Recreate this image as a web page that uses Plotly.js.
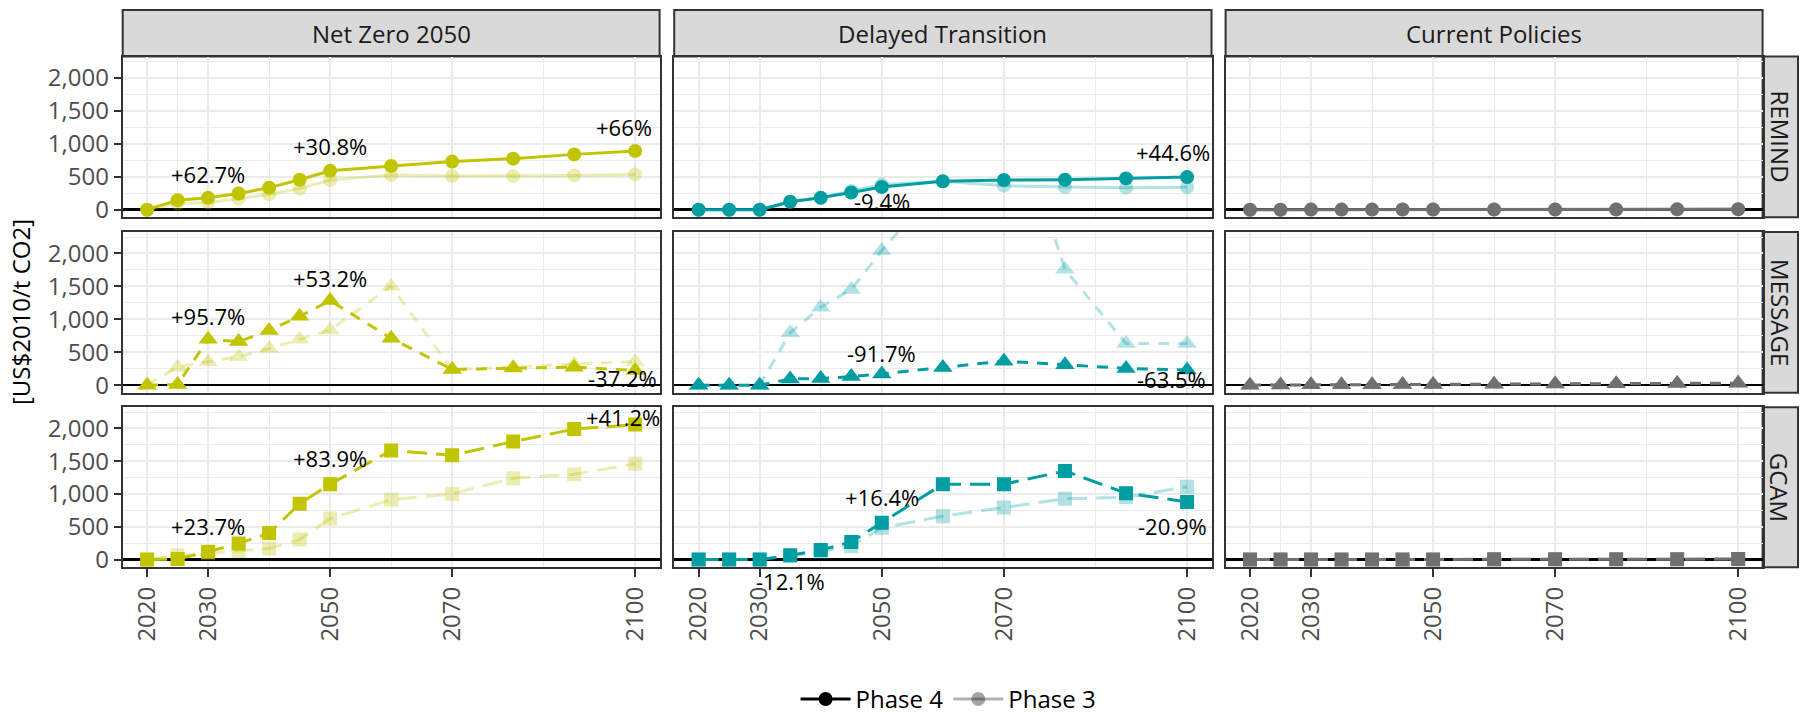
<!DOCTYPE html>
<html>
<head>
<meta charset="utf-8">
<script src="https://cdn.plot.ly/plotly-3.0.1.min.js"></script>
<style>html,body{margin:0;padding:0;background:#fff}#chart{width:1800px;height:722px}</style>
</head>
<body>
<div id="chart"></div>
<script>
// ---------- data ----------
const years = [2020, 2025, 2030, 2035, 2040, 2045, 2050, 2060, 2070, 2080, 2090, 2100];
const scenarios = ['Net Zero 2050', 'Delayed Transition', 'Current Policies'];
const models = ['REMIND', 'MESSAGE', 'GCAM'];
const xTickVals = [2020, 2030, 2050, 2070, 2100];
const xTickText = ['2020', '2030', '2050', '2070', '2100'];
const yTickVals = [0, 500, 1000, 1500, 2000];

// Net Zero 2050
const nzRemindP4 = [0, 145, 180, 245, 335, 455, 590, 665, 730, 775, 840, 890];
const nzRemindP3 = [0, 95, 110, 165, 235, 320, 450, 525, 510, 510, 520, 536];
const nzMessageP4 = [0, 10, 697, 662, 831, 1045, 1284, 711, 239, 259, 274, 224];
const nzMessageP3 = [0, 274, 356, 433, 557, 697, 838, 1502, 239, 274, 323, 357];
const nzGcamP4 = [0, 10, 120, 245, 404, 852, 1151, 1665, 1590, 1800, 1990, 2060];
const nzGcamP3 = [0, 65, 97, 130, 170, 305, 626, 912, 1002, 1241, 1301, 1460];
// Delayed Transition
const dtRemindP4 = [0, 0, 0, 120, 180, 260, 345, 430, 450, 455, 475, 495];
const dtRemindP3 = [0, 0, 0, 120, 185, 285, 381, 430, 365, 345, 335, 342];
const dtMessageP4 = [0, 0, 0, 95, 100, 130, 170, 270, 365, 310, 255, 230];
const dtMessageP3 = [0, 0, 0, 796, 1184, 1453, 2045, 3100, 4600, 1760, 632, 632];
const dtGcamP4 = [0, 0, 0, 65, 145, 270, 563, 1151, 1151, 1351, 1012, 880];
const dtGcamP3 = [0, 0, 0, 55, 120, 205, 484, 663, 793, 927, 952, 1112];
// Current Policies
const cpRemindP4 = [0, 0, 1, 1, 1, 2, 2, 3, 3, 4, 5, 6];
const cpRemindP3 = [0, 0, 1, 1, 2, 2, 3, 4, 5, 6, 8, 10];
const cpMessageP4 = [0, 4, 6, 7, 8, 10, 12, 14, 18, 22, 27, 31];
const cpMessageP3 = [0, 3, 5, 6, 8, 9, 11, 13, 16, 20, 24, 28];
const cpGcamP4 = [0, 0, 1, 1, 2, 2, 3, 4, 5, 6, 7, 8];
const cpGcamP3 = [0, 0, 1, 1, 1, 2, 3, 3, 4, 5, 6, 7];

// percentage change labels (Phase 4 vs Phase 3), positions
const labelText = ['+62.7%', '+30.8%', '+66%', '-9.4%', '+44.6%', '+95.7%', '+53.2%', '-37.2%', '-91.7%', '-63.5%', '+23.7%', '+83.9%', '+41.2%', '+16.4%', '-20.9%', '-12.1%'];
const labelScenario = [0, 0, 0, 1, 1, 0, 0, 0, 1, 1, 0, 0, 0, 1, 1, 1];
const labelModel = [0, 0, 0, 0, 0, 1, 1, 1, 1, 1, 2, 2, 2, 2, 2, 2];
const labelYear = [2030, 2050, 2102.9, 2050, 2103.9, 2030, 2050, 2103.8, 2050, 2103.3, 2030, 2050, 2104.3, 2050, 2103.4, 2035];
const labelValue = [545, 960, 1260, 125, 875, 1050, 1625, 115, 485, 90, 515, 1545, 2180, 955, 515, -320];
const labelRightAligned = [false, false, true, false, true, false, false, true, false, true, false, false, true, false, true, false];

// ---------- styling ----------
const scenarioColor = ['#C1C500', '#009EA3', '#6D7173'];
const scenarioFade = ['rgba(193,197,0,0.3)', 'rgba(0,158,163,0.3)', 'rgba(109,113,115,0.3)'];
const modelSymbol = ['circle', 'triangle-up', 'square'];
const modelSize = [14, 17, 14];
const modelDash = ['solid', '11px,9px', '20px,9px'];

const seriesTable = [
  [[nzRemindP4, nzRemindP3], [nzMessageP4, nzMessageP3], [nzGcamP4, nzGcamP3]],
  [[dtRemindP4, dtRemindP3], [dtMessageP4, dtMessageP3], [dtGcamP4, dtGcamP3]],
  [[cpRemindP4, cpRemindP3], [cpMessageP4, cpMessageP3], [cpGcamP4, cpGcamP3]]
];

const W = 1800, H = 722;
const colPx = [[122.7, 659.6], [674.2, 1211.5], [1225.6, 1762.6]];
const rowPx = [[57.3, 220], [235, 397.7], [412.3, 574.3]];
const colX = colPx.map(p => [p[0] / W, p[1] / W]);
const rowY = rowPx.map(p => [1 - p[1] / H, 1 - p[0] / H]);
const stripTop = [1 - 57.3 / H, 1 - 10 / H];
const stripRight = [1762.6 / W, 1798 / W];
const xRange = [2016, 2104];
const yRange = [-115, 2325];

const FONT = 'Open Sans, Noto Sans, sans-serif';

const traces = [];
const layout = {
  width: W, height: H,
  margin: {l: 0, r: 0, t: 0, b: 0},
  paper_bgcolor: '#fff', plot_bgcolor: '#fff',
  font: {family: FONT, color: '#000'},
  showlegend: true,
  legend: {orientation: 'h', x: 0.527, xanchor: 'center', y: 0.019, yanchor: 'middle',
           font: {size: 24, color: '#000', family: FONT}, traceorder: 'normal', itemwidth: 50},
  shapes: [], annotations: []
};

const clamp = (v, lo, hi) => Math.min(hi, Math.max(lo, v));

for (let r = 0; r < 3; r++) {
  for (let c = 0; c < 3; c++) {
    const k = r * 3 + c + 1;
    const xa = k === 1 ? 'x' : 'x' + k;
    const ya = k === 1 ? 'y' : 'y' + k;
    const [p4, p3] = seriesTable[c][r];
    traces.push({
      type: 'scatter', mode: 'lines+markers', x: years, y: p3, xaxis: xa, yaxis: ya,
      line: {color: scenarioFade[c], width: 3, dash: modelDash[r]},
      marker: {symbol: modelSymbol[r], size: modelSize[r], color: scenarioFade[c]},
      showlegend: false, hoverinfo: 'skip'
    });
    traces.push({
      type: 'scatter', mode: 'lines+markers', x: years, y: p4, xaxis: xa, yaxis: ya,
      line: {color: scenarioColor[c], width: 3, dash: modelDash[r]},
      marker: {symbol: modelSymbol[r], size: modelSize[r], color: scenarioColor[c]},
      showlegend: false, hoverinfo: 'skip'
    });
    // percentage labels as annotations (anchored in data units)
    const pxPerX = (colPx[c][1] - colPx[c][0]) / (xRange[1] - xRange[0]);
    const pxPerY = (rowPx[r][1] - rowPx[r][0]) / (yRange[1] - yRange[0]);
    for (let i = 0; i < labelText.length; i++) {
      if (labelScenario[i] !== c || labelModel[i] !== r) continue;
      const ax = clamp(labelYear[i], xRange[0], xRange[1]);
      const ay = clamp(labelValue[i], yRange[0], yRange[1]);
      layout.annotations.push({
        xref: xa, yref: ya, x: ax, y: ay,
        xshift: (labelYear[i] - ax) * pxPerX, yshift: (labelValue[i] - ay) * pxPerY,
        text: labelText[i], showarrow: false,
        xanchor: labelRightAligned[i] ? 'right' : 'center', yanchor: 'middle',
        font: {size: 22, color: '#000', family: FONT}, borderpad: 0
      });
    }
    layout['xaxis' + (k === 1 ? '' : k)] = {
      domain: colX[c], anchor: ya, range: xRange,
      tickmode: 'array', tickvals: xTickVals, ticktext: xTickText,
      showticklabels: r === 2, ticks: r === 2 ? 'outside' : '', ticklen: 8, tickwidth: 2, tickcolor: '#333',
      tickangle: -90, tickfont: {size: 24, color: '#4D4D4D', family: FONT},
      showgrid: true, gridcolor: '#EBEBEB', gridwidth: 2,
      minor: {tickmode: 'array', tickvals: [2025, 2040, 2060, 2085], showgrid: true, gridcolor: '#EBEBEB', gridwidth: 1, ticks: ''},
      showline: true, mirror: true, linecolor: '#333', linewidth: 2, zeroline: false, fixedrange: true
    };
    layout['yaxis' + (k === 1 ? '' : k)] = {
      domain: rowY[r], anchor: xa, range: yRange,
      tickmode: 'array', tickvals: yTickVals, tickformat: ',',
      showticklabels: c === 0, ticks: c === 0 ? 'outside' : '', ticklen: 7, tickwidth: 2, tickcolor: '#333',
      tickfont: {size: 24, color: '#4D4D4D', family: FONT},
      showgrid: true, gridcolor: '#EBEBEB', gridwidth: 2,
      minor: {tickmode: 'array', tickvals: [250, 750, 1250, 1750, 2250], showgrid: true, gridcolor: '#EBEBEB', gridwidth: 1, ticks: ''},
      showline: true, mirror: true, linecolor: '#333', linewidth: 2,
      zeroline: true, zerolinecolor: '#000', zerolinewidth: 2.5, fixedrange: true
    };
  }
}

// strips
for (let c = 0; c < 3; c++) {
  layout.shapes.push({type: 'rect', xref: 'paper', yref: 'paper', x0: colX[c][0], x1: colX[c][1],
    y0: stripTop[0], y1: stripTop[1], fillcolor: '#D9D9D9', line: {color: '#333', width: 2}, layer: 'below'});
  layout.annotations.push({xref: 'paper', yref: 'paper', x: (colX[c][0] + colX[c][1]) / 2,
    y: (stripTop[0] + stripTop[1]) / 2, text: scenarios[c], showarrow: false,
    font: {size: 24, color: '#1A1A1A', family: FONT}, xanchor: 'center', yanchor: 'middle'});
}
for (let r = 0; r < 3; r++) {
  layout.shapes.push({type: 'rect', xref: 'paper', yref: 'paper', x0: stripRight[0], x1: stripRight[1],
    y0: rowY[r][0], y1: rowY[r][1], fillcolor: '#D9D9D9', line: {color: '#333', width: 2}, layer: 'below'});
  layout.annotations.push({xref: 'paper', yref: 'paper', x: (stripRight[0] + stripRight[1]) / 2,
    y: (rowY[r][0] + rowY[r][1]) / 2, text: models[r], showarrow: false, textangle: 90,
    font: {size: 24, color: '#1A1A1A', family: FONT}, xanchor: 'center', yanchor: 'middle'});
}
// y axis title
layout.annotations.push({xref: 'paper', yref: 'paper', x: 20 / W, y: 1 - 316 / H,
  text: '[US$2010/t CO2]', showarrow: false, textangle: -90,
  font: {size: 24, color: '#000', family: FONT}, xanchor: 'center', yanchor: 'middle'});

// legend entries
traces.push({type: 'scatter', mode: 'lines+markers', x: [null], y: [null], name: 'Phase 4',
  line: {color: '#000', width: 3}, marker: {color: '#000', size: 14, symbol: 'circle'}, showlegend: true});
traces.push({type: 'scatter', mode: 'lines+markers', x: [null], y: [null], name: 'Phase 3',
  line: {color: 'rgba(0,0,0,0.3)', width: 3}, marker: {color: 'rgba(0,0,0,0.35)', size: 14, symbol: 'circle'}, showlegend: true});

Plotly.newPlot('chart', traces, layout, {staticPlot: true, displayModeBar: false});
</script>
</body>
</html>
